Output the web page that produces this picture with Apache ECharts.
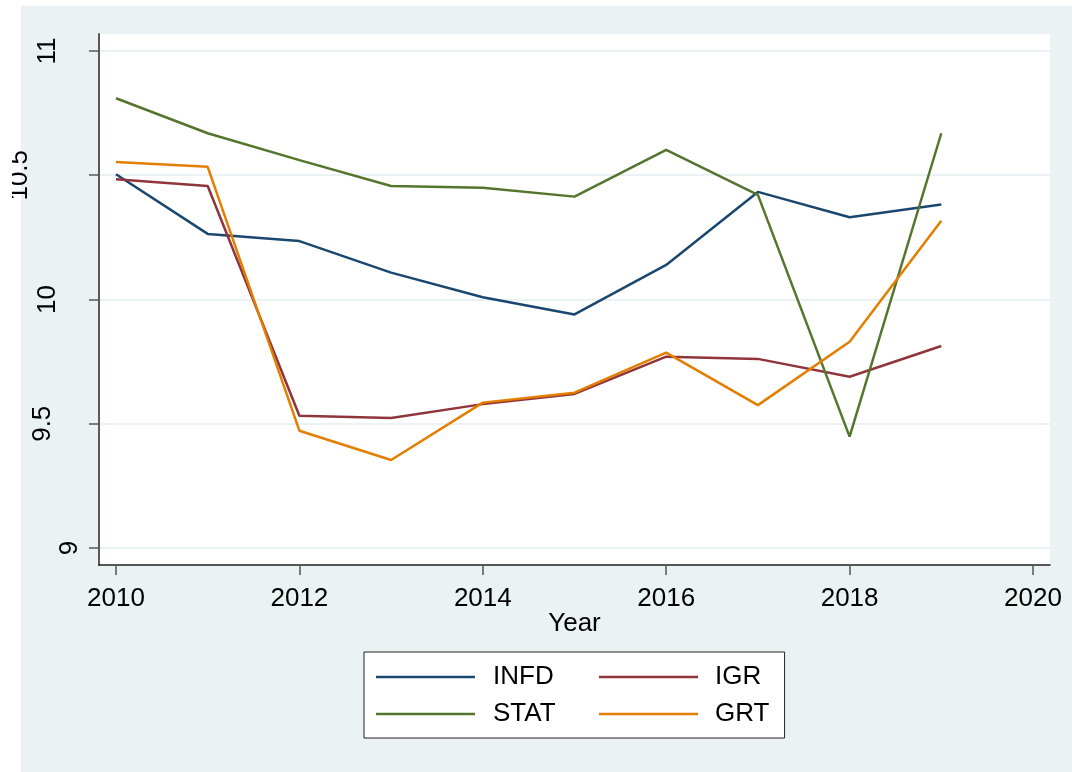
<!DOCTYPE html>
<html>
<head>
<meta charset="utf-8">
<script src="https://cdn.jsdelivr.net/npm/echarts@6/dist/echarts.min.js"></script>
<style>
  html, body { margin: 0; padding: 0; background: #fff; }
  #bg { position: absolute; left: 21px; top: 6px; right: 0; bottom: 0; background: #eaf2f3; }
  #chart { position: absolute; left: 0; top: 0; width: 1072px; height: 772px; }
</style>
</head>
<body>
<div id="bg"></div>
<div id="chart"></div>
<script>
// Data
const years = [2010, 2011, 2012, 2013, 2014, 2015, 2016, 2017, 2018, 2019];
const infd = [10.504, 10.264, 10.235, 10.108, 10.009, 9.940, 10.139, 10.433, 10.331, 10.382];
const igr  = [10.484, 10.457, 9.532, 9.523, 9.579, 9.620, 9.770, 9.761, 9.689, 9.813];
const stat = [10.810, 10.669, 10.561, 10.457, 10.450, 10.414, 10.602, 10.421, 9.448, 10.669];
const grt  = [10.553, 10.534, 9.472, 9.354, 9.585, 9.625, 9.786, 9.575, 9.830, 10.317];
const xTicks = [2010, 2012, 2014, 2016, 2018, 2020];
const yTicks = [9, 9.5, 10, 10.5, 11];
const seriesNames = ['INFD', 'IGR', 'STAT', 'GRT'];
const legendLeftCol = ['INFD', 'STAT'];
const legendRightCol = ['IGR', 'GRT'];

const FONT = '"Liberation Sans", Arial, sans-serif';
const colors = ['#1a476f', '#90353b', '#55752f', '#e37e00'];

// Stata shifts its rotated y labels by their length; mimic it
const yLabelShift = { '9': 0, '9.5': 27, '10': 22, '10.5': 50, '11': 22 };
const yRich = {};
Object.keys(yLabelShift).forEach((k, i) => {
  yRich['y' + i] = { fontSize: 26, fontFamily: FONT, color: '#000', padding: [0, 0, yLabelShift[k], 0] };
});

const pairs = (vals) => years.map((y, i) => [y, vals[i]]);
const allSeries = [infd, igr, stat, grt];

const legendBase = {
  orient: 'vertical',
  icon: 'rect',
  itemWidth: 99, itemHeight: 2.5, itemGap: 11,
  borderRadius: 0
};

const chart = echarts.init(document.getElementById('chart'));

chart.setOption({
  backgroundColor: 'transparent',
  animation: false,
  textStyle: { fontFamily: FONT },
  grid: {
    left: 99, top: 34, right: 22, bottom: 207,
    show: true, backgroundColor: '#fff', borderWidth: 0
  },
  xAxis: {
    type: 'value',
    min: 2009.8146, max: 2020.1854,
    name: 'Year',
    nameLocation: 'middle',
    nameGap: 46,
    nameMoveOverlap: false,
    nameTextStyle: { fontSize: 26, color: '#000', fontFamily: FONT },
    axisLine: { onZero: false, lineStyle: { color: '#222', width: 1.5 } },
    axisTick: { customValues: xTicks, length: 10, lineStyle: { color: '#555', width: 1.5 } },
    axisLabel: {
      customValues: xTicks, fontSize: 26, color: '#000', margin: 21, fontFamily: FONT,
      formatter: (v) => String(v)
    },
    splitLine: { show: false }
  },
  yAxis: {
    type: 'value',
    min: 8.9316, max: 11.0684,
    axisLine: { show: true, lineStyle: { color: '#5a5a5a', width: 2 } },
    axisTick: { show: true, customValues: yTicks, length: 10, lineStyle: { color: '#5a5a5a', width: 1.5 } },
    axisLabel: {
      customValues: yTicks,
      rotate: 90,
      margin: 16,
      rich: yRich,
      formatter: (v) => {
        const key = String(v);
        const idx = Object.keys(yLabelShift).indexOf(key);
        return '{y' + idx + '|' + key + '}';
      }
    },
    splitLine: { show: true, lineStyle: { color: '#eaf2f3', width: 2 } }
  },
  legend: [
    // left column also carries the white box for the whole legend
    Object.assign({}, legendBase, {
      data: legendLeftCol,
      left: 364, top: 652,
      padding: [12, 229, 11, 12],
      backgroundColor: '#fff',
      borderColor: '#222', borderWidth: 1,
      textStyle: { fontSize: 26, color: '#000', fontFamily: FONT, padding: [0, 0, 0, 13] }
    }),
    Object.assign({}, legendBase, {
      data: legendRightCol,
      left: 599, top: 664,
      padding: 0,
      z: 6,
      textStyle: { fontSize: 26, color: '#000', fontFamily: FONT, padding: [0, 0, 0, 12] }
    })
  ],
  graphic: [{
    type: 'rect', z: 100,
    shape: { x: 0, y: 0, width: 12, height: 772 },
    style: { fill: '#fff' }
  }],
  series: seriesNames.map((name, i) => ({
    name: name,
    type: 'line',
    data: pairs(allSeries[i]),
    showSymbol: false,
    symbol: 'none',
    color: colors[i],
    lineStyle: { color: colors[i], width: 2.5 }
  }))
});

window.addEventListener('resize', () => chart.resize());
</script>
</body>
</html>
